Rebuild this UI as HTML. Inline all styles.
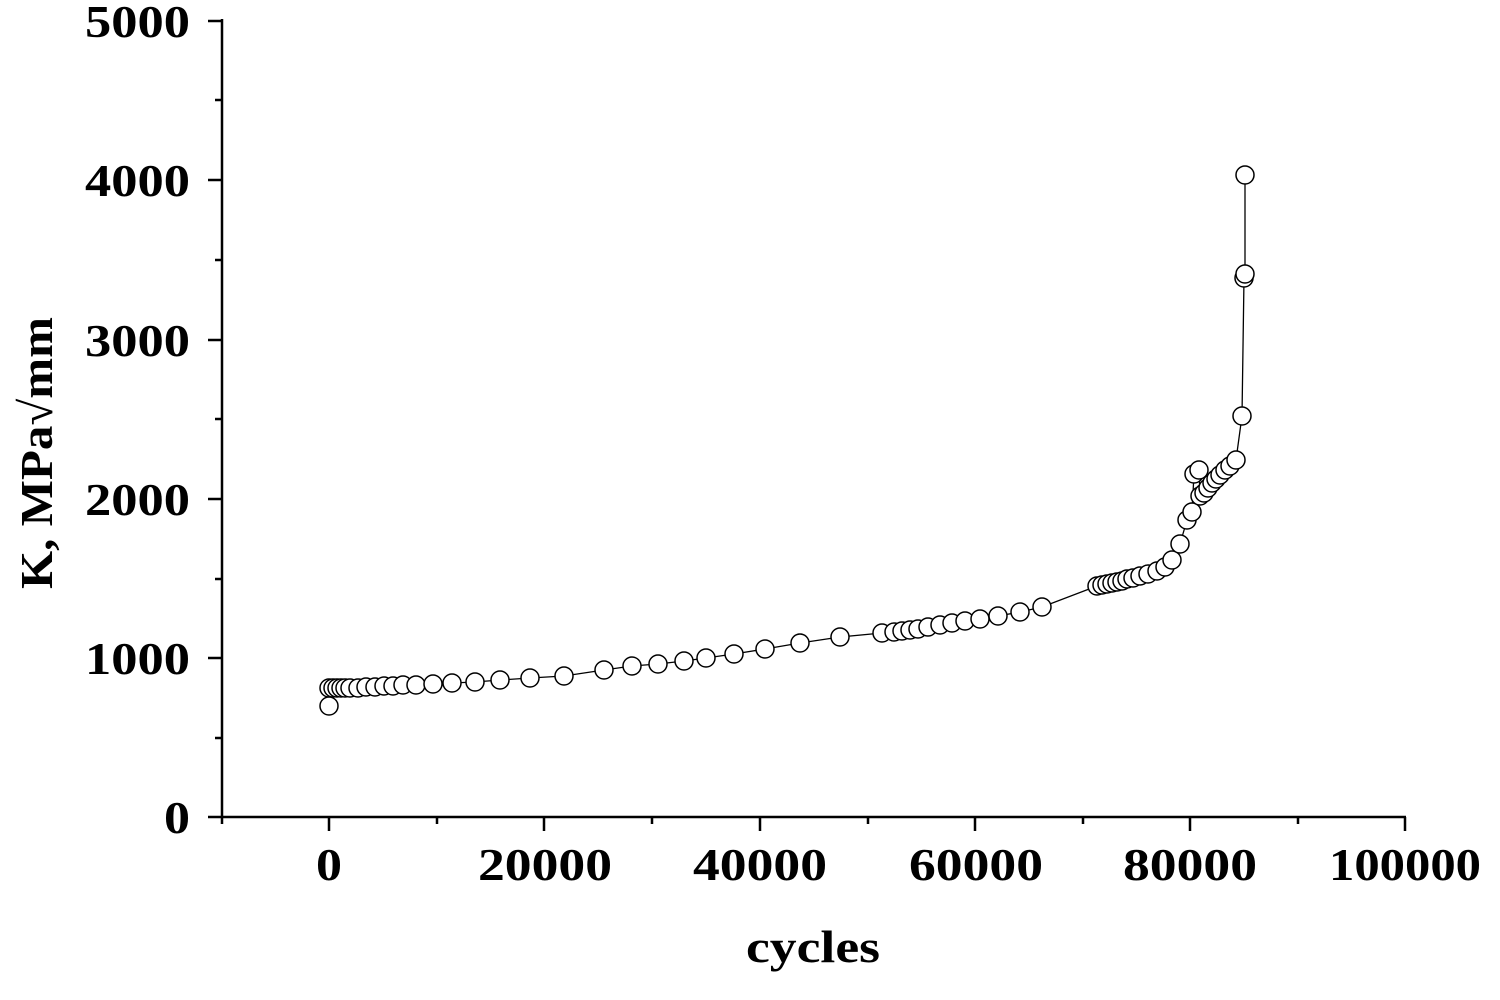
<!DOCTYPE html>
<html><head><style>body{margin:0;background:#fff}svg{display:block}</style></head><body>
<svg width="1500" height="1000" xmlns="http://www.w3.org/2000/svg" font-family="Liberation Serif, serif" font-weight="bold">
<g stroke="#000" stroke-width="2.5" fill="none">
<line x1="222" y1="19" x2="222" y2="818"/>
<line x1="221" y1="817" x2="1406" y2="817"/>
<path d="M222 21h-14M222 180h-14M222 340h-14M222 499h-14M222 658h-14M222 817h-14"/>
<path d="M222 100h-7M222 260h-7M222 419h-7M222 579h-7M222 738h-7"/>
<path d="M329 817v14M544 817v14M760 817v14M975 817v14M1190 817v14M1405 817v14"/>
<path d="M222 817v7M437 817v7M652 817v7M868 817v7M1083 817v7M1298 817v7"/>
</g>
<g font-size="46" text-anchor="end">
<text x="190" y="37" textLength="105" lengthAdjust="spacingAndGlyphs">5000</text>
<text x="190" y="196" textLength="105" lengthAdjust="spacingAndGlyphs">4000</text>
<text x="190" y="356" textLength="105" lengthAdjust="spacingAndGlyphs">3000</text>
<text x="190" y="515" textLength="105" lengthAdjust="spacingAndGlyphs">2000</text>
<text x="190" y="674" textLength="105" lengthAdjust="spacingAndGlyphs">1000</text>
<text x="190" y="833" textLength="26" lengthAdjust="spacingAndGlyphs">0</text>
</g>
<g font-size="46" text-anchor="middle">
<text x="329" y="880" textLength="26" lengthAdjust="spacingAndGlyphs">0</text>
<text x="545" y="880" textLength="134" lengthAdjust="spacingAndGlyphs">20000</text>
<text x="760" y="880" textLength="134" lengthAdjust="spacingAndGlyphs">40000</text>
<text x="976" y="880" textLength="134" lengthAdjust="spacingAndGlyphs">60000</text>
<text x="1190" y="880" textLength="134" lengthAdjust="spacingAndGlyphs">80000</text>
<text x="1405" y="880" textLength="152" lengthAdjust="spacingAndGlyphs">100000</text>
<text x="813" y="962" textLength="134" lengthAdjust="spacingAndGlyphs">cycles</text>
</g>
<text font-size="46" text-anchor="middle" transform="translate(52 453) rotate(-90)" textLength="272" lengthAdjust="spacingAndGlyphs">K, MPa√mm</text>
<polyline fill="none" stroke="#000" stroke-width="1.3" points="329,706 329,688 350,688 358,688 366,687 375,687 384,686 393,686 403,685 416,685 433,684 452,683 475,682 500,680 530,678 564,676 604,670 632,666 658,664 684,661 706,658 734,654 765,649 800,643 840,637 882,633 894,632 902,631 910,630 918,629 928,627 940,625 952,623 965,621 980,619 998,616 1020,612 1042,607 1097,586 1102,585 1107,584 1112,583 1117,582 1122,581 1127,579 1133,578 1140,576 1148,574 1157,571 1165,567 1172,560 1180,544 1187,520 1192,512 1194,474 1199,470 1200,496 1204,493 1208,488 1212,483 1216,479 1220,475 1225,470 1230,466 1236,460 1242,416 1244,278 1245,274 1245,175"/>
<g fill="#fff" stroke="#000" stroke-width="1.5">
<circle cx="329" cy="688" r="9"/><circle cx="333" cy="688" r="9"/><circle cx="337" cy="688" r="9"/><circle cx="341" cy="688" r="9"/><circle cx="345" cy="688" r="9"/>
<circle cx="329" cy="706" r="9"/>
<circle cx="350" cy="688" r="9"/><circle cx="358" cy="688" r="9"/><circle cx="366" cy="687" r="9"/><circle cx="375" cy="687" r="9"/><circle cx="384" cy="686" r="9"/><circle cx="393" cy="686" r="9"/><circle cx="403" cy="685" r="9"/><circle cx="416" cy="685" r="9"/><circle cx="433" cy="684" r="9"/><circle cx="452" cy="683" r="9"/><circle cx="475" cy="682" r="9"/><circle cx="500" cy="680" r="9"/><circle cx="530" cy="678" r="9"/><circle cx="564" cy="676" r="9"/><circle cx="604" cy="670" r="9"/><circle cx="632" cy="666" r="9"/><circle cx="658" cy="664" r="9"/><circle cx="684" cy="661" r="9"/><circle cx="706" cy="658" r="9"/><circle cx="734" cy="654" r="9"/><circle cx="765" cy="649" r="9"/><circle cx="800" cy="643" r="9"/><circle cx="840" cy="637" r="9"/><circle cx="882" cy="633" r="9"/><circle cx="894" cy="632" r="9"/><circle cx="902" cy="631" r="9"/><circle cx="910" cy="630" r="9"/><circle cx="918" cy="629" r="9"/><circle cx="928" cy="627" r="9"/><circle cx="940" cy="625" r="9"/><circle cx="952" cy="623" r="9"/><circle cx="965" cy="621" r="9"/><circle cx="980" cy="619" r="9"/><circle cx="998" cy="616" r="9"/><circle cx="1020" cy="612" r="9"/><circle cx="1042" cy="607" r="9"/>
<circle cx="1097" cy="586" r="9"/><circle cx="1102" cy="585" r="9"/><circle cx="1107" cy="584" r="9"/><circle cx="1112" cy="583" r="9"/><circle cx="1117" cy="582" r="9"/><circle cx="1122" cy="581" r="9"/><circle cx="1127" cy="579" r="9"/><circle cx="1133" cy="578" r="9"/><circle cx="1140" cy="576" r="9"/><circle cx="1148" cy="574" r="9"/><circle cx="1157" cy="571" r="9"/><circle cx="1165" cy="567" r="9"/><circle cx="1172" cy="560" r="9"/><circle cx="1180" cy="544" r="9"/><circle cx="1187" cy="520" r="9"/><circle cx="1192" cy="512" r="9"/><circle cx="1194" cy="474" r="9"/><circle cx="1199" cy="470" r="9"/><circle cx="1200" cy="496" r="9"/><circle cx="1204" cy="493" r="9"/><circle cx="1208" cy="488" r="9"/><circle cx="1212" cy="483" r="9"/><circle cx="1216" cy="479" r="9"/><circle cx="1220" cy="475" r="9"/><circle cx="1225" cy="470" r="9"/><circle cx="1230" cy="466" r="9"/><circle cx="1236" cy="460" r="9"/><circle cx="1242" cy="416" r="9"/><circle cx="1244" cy="278" r="9"/><circle cx="1245" cy="274" r="9"/><circle cx="1245" cy="175" r="9"/>
</g>
</svg>
</body></html>
